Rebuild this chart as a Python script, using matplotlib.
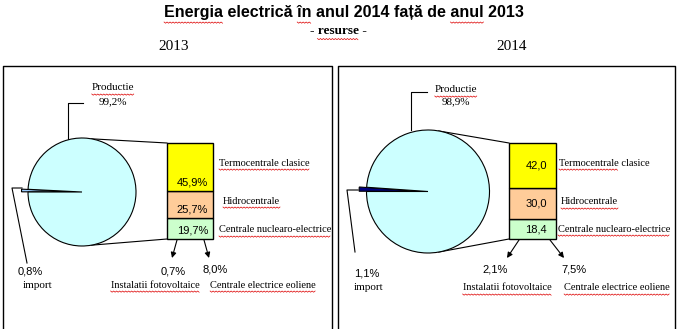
import numpy as np
import matplotlib
matplotlib.use('Agg')
import matplotlib.pyplot as plt

W, H = 677, 329

# date (procente)
years = ['2013', '2014']
productie = [99.2, 98.9]
import_share = [0.8, 1.1]
termo = [45.9, 42.0]
hidro = [25.7, 30.0]
nuclear = [19.7, 18.4]
foto = [0.7, 2.1]
eolian = [8.0, 7.5]

categories = ['Termocentrale clasice', 'Hidrocentrale', 'Centrale nuclearo-electrice']
bar_colors = ['#ffff00', '#ffcc99', '#ccffcc']
import_colors = ['#99ccff', '#000080']
pie_color = '#ccffff'

plt.rcParams['font.family'] = 'Liberation Serif'
SANS = 'Liberation Sans'

fig = plt.figure(figsize=(W / 100, H / 100), dpi=100)
ax = fig.add_axes([0, 0, 1, 1])
ax.set_xlim(0, W)
ax.set_ylim(H, 0)
ax.axis('off')

squiggles = []  # (text, span) pairs underlined like a spell checker


def fmt(v, pct=True):
    s = f"{v:.1f}".replace('.', ',')
    return s + '%' if pct else s


def pix_axes(x0, y0, x1, y1):
    return fig.add_axes([x0 / W, (H - y1) / H, (x1 - x0) / W, (y1 - y0) / H])


# layout of the two panels, in pixels
panels = [
    dict(box=(3, 66, 332), pie=(82, 192, 54), bar=(167, 143, 213, 239),
         prod_txt=(113, 88, 102), prod_lead=[(68, 139), (68, 103), (83, 103)],
         imp_lead=[(22, 188), (12, 188), (27, 263)],
         imp_txt=[(30, 271), (38, 286)], imp_ha='center',
         cat_txt=[(219, 163), (223, 201), (219, 230)],
         arrows=[((177, 240), (172, 258)), ((204, 240), (209, 258))],
         arr_val=[(173, 272), (215, 269)], arr_name=[(155, 285), (263, 285)],
         pct=True, term_span=None),
    dict(box=(338, 66, 675), pie=(428, 191.5, 61.5), bar=(509, 143, 556, 239),
         prod_txt=(456, 90, 102), prod_lead=[(411, 130), (411, 92), (427, 92)],
         imp_lead=[(358, 190), (347, 190), (355, 252)],
         imp_txt=[(354, 274), (354, 287)], imp_ha='left',
         cat_txt=[(559, 163), (561, 202), (558, 229)],
         arrows=[((519, 240), (507, 258)), ((550, 240), (564, 258))],
         arr_val=[(495, 269), (574, 269)], arr_name=[(507, 288), (617, 288)],
         pct=False, term_span=(0, 13)),
]

# titles
t = ax.text(344, 13, 'Energia electrică în anul 2014 față de anul 2013', ha='center',
            va='center', fontsize=11.5, fontweight='bold', family=SANS)
s = t.get_text()
squiggles += [(t, (0, 7)), (t, (s.find('în'), s.find('în') + 2)),
              (t, (s.rfind('anul'), s.rfind('anul') + 4))]
t = ax.text(338, 31, '- resurse -', ha='center', va='center', fontsize=9.5, fontweight='bold')
squiggles.append((t, (2, 9)))
ax.text(174, 47, years[0], ha='center', va='center', fontsize=11)
ax.text(512, 47, years[1], ha='center', va='center', fontsize=11)

for i, p in enumerate(panels):
    bx0, by0, bx1 = p['box']
    ax.plot([bx0, bx0, bx1, bx1], [H + 2, by0, by0, H + 2], color='black', lw=1)

    # pie: import vs production
    cx, cy, r = p['pie']
    pa = pix_axes(cx - 1.3 * r, cy - 1.3 * r, cx + 1.3 * r, cy + 1.3 * r)
    imp = import_share[i]
    pa.pie([imp, productie[i]], colors=[import_colors[i], pie_color],
           startangle=180 - imp * 3.6, explode=[0.12, 0], radius=1,
           wedgeprops=dict(edgecolor='black', linewidth=0.8))
    pa.set_xlim(-1.3, 1.3)
    pa.set_ylim(-1.3, 1.3)
    pa.axis('off')

    # stacked bar for the production breakdown
    x0, y0, x1, y1 = p['bar']
    ba = pix_axes(x0, y0, x1, y1)
    vals = [nuclear[i], hidro[i], termo[i]]
    cols = bar_colors[::-1]
    total = sum(vals)
    bottom = 0
    for v, c in zip(vals, cols):
        ba.bar(0, v, bottom=bottom, width=1, color=c, edgecolor='black', lw=1, clip_on=False)
        if p['pct']:
            ba.annotate(fmt(v), (0.5, bottom), xytext=(-3.5, 2.5), textcoords='offset points',
                        ha='right', va='bottom', fontsize=8, family=SANS)
        else:
            ba.annotate(fmt(v, False), (0.5, bottom + v / 2), xytext=(-6.5, 0),
                        textcoords='offset points', ha='right', va='center',
                        fontsize=8, family=SANS)
        bottom += v
    ba.set_xlim(-0.5, 0.5)
    ba.set_ylim(0, total)
    ba.axis('off')

    # connector lines pie -> bar
    a = np.deg2rad(80)
    ax.plot([cx + r * np.cos(a), x0], [cy - r * np.sin(a), y0], color='black', lw=0.8)
    ax.plot([cx + r * np.cos(a), x0], [cy + r * np.sin(a), y1], color='black', lw=0.8)

    # production label
    px, py1, py2 = p['prod_txt']
    t = ax.text(px, py1, 'Productie', ha='center', va='center', fontsize=8)
    squiggles.append((t, None))
    ax.text(px, py2, fmt(productie[i]), ha='center', va='center', fontsize=8)
    ax.plot(*zip(*p['prod_lead']), color='black', lw=0.8)

    # import label
    ax.plot(*zip(*p['imp_lead']), color='black', lw=0.8)
    (ix1, iy1), (ix2, iy2) = p['imp_txt']
    ax.text(ix1, iy1, fmt(imp), ha=p['imp_ha'], va='center', fontsize=8, family=SANS)
    ax.text(ix2, iy2, 'import', ha=p['imp_ha'], va='center', fontsize=8)

    # category labels next to the bar
    for (tx, ty), name in zip(p['cat_txt'], categories):
        t = ax.text(tx, ty, name, ha='left', va='center', fontsize=7.5)
        squiggles.append((t, p['term_span'] if name.startswith('Termo') else None))

    # arrows for the small sources
    for (start, end), (vx, vy), (nx, ny), v, name in zip(
            p['arrows'], p['arr_val'], p['arr_name'], [foto[i], eolian[i]],
            ['Instalatii fotovoltaice', 'Centrale electrice eoliene']):
        ax.annotate('', xy=end, xytext=start,
                    arrowprops=dict(arrowstyle='-|>', color='black', lw=0.8,
                                    mutation_scale=8, shrinkA=0, shrinkB=0))
        ax.text(vx, vy, fmt(v), ha='center', va='center', fontsize=8, family=SANS)
        t = ax.text(nx, ny, name, ha='center', va='center', fontsize=7.5)
        squiggles.append((t, None))

# red wavy underlines
fig.canvas.draw()
rend = fig.canvas.get_renderer()
for t, span in squiggles:
    bb = t.get_window_extent(rend)
    s = t.get_text()
    a, b = span if span else (0, len(s))
    fp = t.get_fontproperties()
    wa = rend.get_text_width_height_descent(s[:a], fp, ismath=False)[0] if a else 0
    wb = rend.get_text_width_height_descent(s[:b], fp, ismath=False)[0]
    xs = np.arange(bb.x0 + wa, bb.x0 + wb, 1.5)
    ys = H - bb.y0 + 1.5 + np.where(np.arange(len(xs)) % 2 == 0, 0, 1.2)
    ax.plot(xs, ys, color='#dd0000', lw=0.5)

fig.savefig('out.png', dpi=100)
